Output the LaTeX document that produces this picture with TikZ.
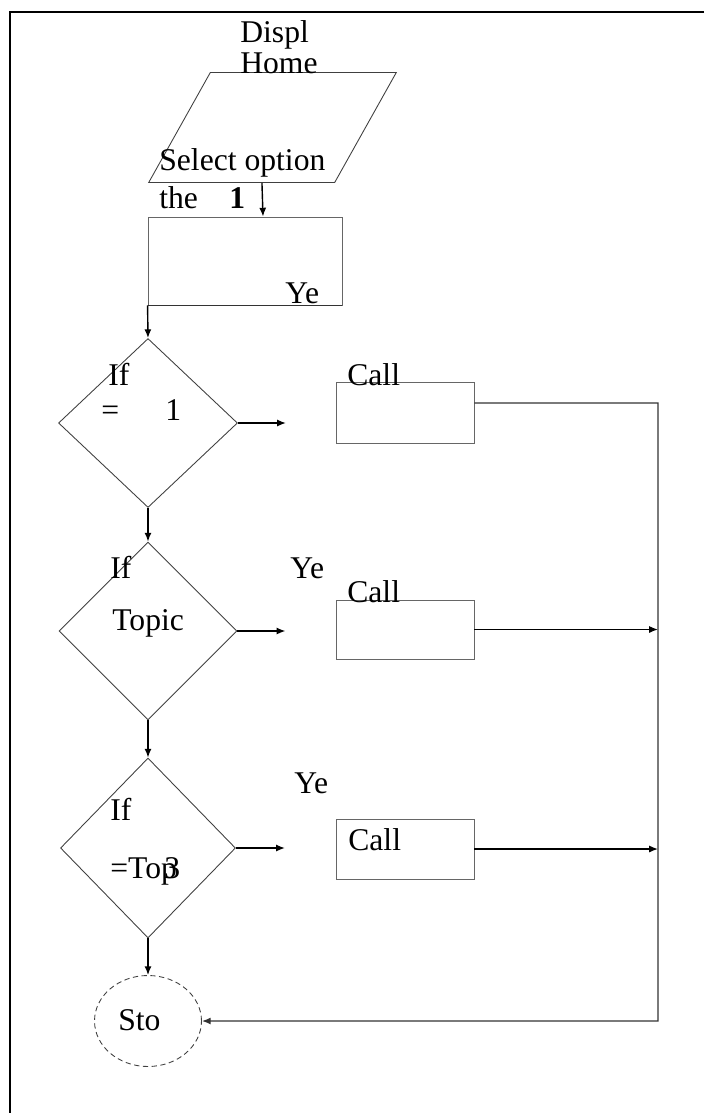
\documentclass[tikz,border=0pt]{standalone}
\usepackage{fontspec}
\setmainfont{Liberation Serif}
\usetikzlibrary{shapes.geometric,arrows.meta,positioning,calc}

\begin{document}
\begin{tikzpicture}[x=0.02cm, y=-0.02cm, font=\fontsize{18}{21}\selectfont,
box/.style={draw=black!60, line width=0.5pt, rectangle, inner sep=0pt},
dec/.style={draw=black!75, line width=0.5pt, diamond, inner sep=0pt},
lbl/.style={anchor=base west, inner sep=0pt},
arr/.style={-{Latex[length=5pt,width=4pt]}, line width=0.8pt}]
\useasboundingbox (0,0) rectangle (704,1113);
\draw[line width=0.8pt] (704,12) -- (10,12) -- (10,1113);

% input / first step
\node (disp) [draw=black!75, line width=0.5pt, rectangle, xslant=0.56, transform shape,
  minimum width=3.72cm, minimum height=2.2cm, inner sep=0pt] at (272.5,127.5) {};
\node (sel) [box, minimum width=3.88cm, minimum height=1.76cm] at (245,261) {};
\draw[line width=0.8pt, black!80] (sel.south west) -- (sel.south east);
\node (dispt) [lbl] at (240,42) {Displ};
\node (home) [lbl] at (240,73) {Home};
\node (selt) [lbl] at (159,170) {Select option};
\node (the) [lbl] at (159,208) {the};
\node (one) [lbl] at (229,208) {\textbf{1}};
\node (ye0) [lbl] at (285,303) {Ye};

% decisions
\node (d1) [dec, minimum width=3.58cm, minimum height=3.38cm] at (148,423) {};
\node (d2) [dec, minimum width=3.56cm, minimum height=3.56cm] at (148,631) {};
\node (d3) [dec, minimum width=3.5cm, minimum height=3.6cm] at (148,848) {};
\node (if1) [lbl] at (108,385) {If};
\node (eq1) [lbl] at (101,420) {=};
\node (n1) [lbl] at (165,420) {1};
\node (if2) [lbl] at (110,578) {If};
\node (top2) [lbl] at (112,630) {Topic};
\node (ye2) [lbl] at (290,578) {Ye};
\node (if3) [lbl] at (110,820) {If};
\node (top3) [lbl] at (110,878) {=Top\kern-.4em3};
\node (ye3) [lbl] at (294,793) {Ye};

% calls
\node (c1) [box, minimum width=2.76cm, minimum height=1.22cm] at (405,412.5) {};
\node (c2) [box, minimum width=2.76cm, minimum height=1.18cm] at (405,629.5) {};
\node (c3) [box, minimum width=2.76cm, minimum height=1.2cm] at (405,849) {};
\node (call1) [lbl] at (347,385) {Call};
\node (call2) [lbl] at (347,602) {Call};
\node (call3) [lbl] at (348,850) {Call};

\node (stop) [draw=black!75, line width=0.5pt, densely dashed, ellipse, minimum width=2.14cm, minimum height=1.82cm, inner sep=0pt] at (148,1021) {};
\node (stopt) [lbl] at (118,1030) {Sto};
\coordinate (bus) at (658,403);

\draw[arr] ([xshift=0.41cm]disp.south) -- ([xshift=0.36cm]sel.north);
\draw[arr] (sel.south west) -- (d1.north);
\draw[arr] (d1.south) -- (d2.north);
\draw[arr] (d2.south) -- (d3.north);
\draw[arr] (d3.south) -- (stop.north);
\draw[arr] (d1.east) -- ++(48,0);
\draw[arr] (d2.east) -- ++(48,0);
\draw[arr] (d3.east) -- ++(49,0);
\draw[arr, black!80] ([yshift=0.19cm]c1.east) -- (bus) |- (stop.east);
\draw[arr] (c2.east) -- (bus |- c2.east);
\draw[arr] (c3.east) -- (bus |- c3.east);
\end{tikzpicture}
\end{document}
